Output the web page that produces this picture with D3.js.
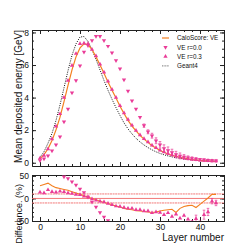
<!DOCTYPE html>
<html lang="en">
<head>
<meta charset="UTF-8">
<script src="https://d3js.org/d3.v7.min.js"></script>
<style>
  body { margin: 0; background: #fff; }
  svg { font-family: "Liberation Sans", Arial, sans-serif; }
</style>
</head>
<body>
<script>
// layer index 0..44
var layers = d3.range(45);

// mean deposited energy per layer [GeV]
var geant4 = [0.33,0.68,1.2,1.8,2.6,3.55,4.6,5.65,6.6,7.3,
  7.72,7.75,7.45,6.95,6.35,5.7,5.05,4.45,3.9,3.38,
  2.9,2.45,2.08,1.77,1.5,1.28,1.09,0.93,0.79,0.67,
  0.57,0.49,0.42,0.36,0.31,0.27,0.23,0.2,0.17,0.15,
  0.13,0.12,0.11,0.1,0.09];
var caloScore = [0.25,0.5,0.86,1.37,2.02,2.8,3.75,4.75,5.7,6.5,
  7.05,7.3,7.25,6.95,6.5,6.0,5.5,4.95,4.45,3.97,
  3.47,3.02,2.6,2.25,1.95,1.68,1.45,1.25,1.05,0.9,
  0.75,0.64,0.54,0.45,0.4,0.33,0.28,0.24,0.2,0.17,
  0.14,0.12,0.105,0.093,0.085];
var veR00 = [0.14,0.25,0.43,0.74,1.1,1.6,2.52,3.3,4.3,5.05,
  5.95,6.8,7.2,7.5,7.77,7.77,7.5,7.16,6.75,6.28,
  5.77,5.1,4.41,3.8,3.3,2.79,2.28,1.9,1.66,1.35,
  1.1,0.88,0.75,0.63,0.5,0.42,0.35,0.3,0.26,0.23,
  0.2,0.18,0.16,0.14,0.12];
var veR00Err = [0,0,0,0,0,0,0,0,0,0,
  0,0,0,0,0,0,0,0,0,0,
  0,0,0,0,0,0,0.1,0.12,0.15,0.18,
  0.2,0.22,0.22,0.2,0.2,0.18,0.15,0.12,0.1,0.08,
  0.06,0.05,0.05,0.05,0.05];
var veR03 = [0.27,0.45,0.84,1.46,2.24,3.0,4.0,5.05,5.97,6.7,
  7.3,7.34,7.3,6.95,6.55,6.05,5.55,5.0,4.5,4.0,
  3.5,3.05,2.65,2.3,1.98,1.7,1.47,1.27,1.07,0.92,
  0.77,0.66,0.56,0.48,0.41,0.35,0.3,0.25,0.22,0.19,
  0.16,0.14,0.12,0.11,0.1];

// difference to Geant4 [%]
var diffCalo = [28,31,34,28,24,22,20,18,15,12,
  9,6,3,0,-3,-6,-9,-11,-14,-17,
  -19,-22,-24,-25,-27,-28,-29,-30,-31,-30,
  -28,-26,-25,-24,-31,-22,-18,-16,-15,-20,
  -13,-6,1,9,9];
var diffR00 = [null,null,null,null,null,null,48,44,37,30,
  21,13,3,-8,-19,-31,-41,-49,null,null,
  null,null,null,null,null,null,null,null,null,null,
  null,null,null,null,null,null,null,null,null,null,
  null,null,null,null,null];
var diffR03 = [14,12,19,15,14,16,15,12,11,9,
  8,5,3,-1,-4,-6,-8,-11,-14,-17,
  -18,-20,-22,-22,-25,-25,-28,-28,-32,-30,
  -31,-36,-32,-40,-35,-44,-38,-46,-55,-45,
  -58,-36,-30,-6,-10];
var diffR03Err = [0,0,0,0,0,0,0,0,0,0,
  0,0,0,0,0,0,0,0,0,0,
  0,0,0,0,0,0,0,0,0,0,
  0,0,0,0,0,0,0,0,6,8,
  8,10,8,6,6];

var xMajor = [0, 10, 20, 30, 40];
var yTopMajor = [0, 2, 4, 6, 8];
var yBotMajor = [-50, 0, 50];
var refLines = [-10, 0, 10];
var legendNames = ["CaloScore: VE", "VE r=0.0", "VE r=0.3", "Geant4"];

var orange = "#f47f1f", pink = "#ea3c98";

var svg = d3.select("body").append("svg")
  .attr("width", 249).attr("height", 249);

var x = d3.scaleLinear().domain([-2, 46]).range([32, 224]);
var yTop = d3.scaleLinear().domain([-0.2, 8.15]).range([166, 30]);
var yBot = d3.scaleLinear().domain([-50, 52]).range([221, 175]);

var xMinor = d3.range(-2, 47, 2);

function frame(yScale, yMajor, yMinor, xLabels) {
  var r = yScale.range();
  var g = svg.append("g");
  function ax(axis, tx, ty, vals, size, labels) {
    var a = g.append("g").attr("transform", "translate(" + tx + "," + ty + ")")
      .call(axis.tickValues(vals).tickSizeInner(-size).tickSizeOuter(0)
        .tickPadding(3).tickFormat(labels ? d3.format("d") : ""));
    a.attr("font-size", 8.5).attr("font-family", null);
    a.selectAll("path, line").attr("stroke", "#222");
    a.selectAll("text").attr("fill", "#111");
    return a;
  }
  ax(d3.axisBottom(x), 0, r[0], xMajor, 4, xLabels);
  ax(d3.axisBottom(x), 0, r[0], xMinor, 2, false);
  ax(d3.axisTop(x), 0, r[1], xMajor, 4, false);
  ax(d3.axisTop(x), 0, r[1], xMinor, 2, false);
  ax(d3.axisLeft(yScale), 32, 0, yMajor, 4, true);
  ax(d3.axisLeft(yScale), 32, 0, yMinor, 2, false);
  ax(d3.axisRight(yScale), 224, 0, yMajor, 4, false);
  ax(d3.axisRight(yScale), 224, 0, yMinor, 2, false);
}

frame(yTop, yTopMajor, d3.range(0, 8.01, 0.5), false);
frame(yBot, yBotMajor, d3.range(-50, 51, 10), true);

svg.append("clipPath").attr("id", "clipTop").append("rect")
  .attr("x", 32).attr("y", 30).attr("width", 192).attr("height", 136);
svg.append("clipPath").attr("id", "clipBot").append("rect")
  .attr("x", 32).attr("y", 175).attr("width", 192).attr("height", 46);

var topG = svg.append("g").attr("clip-path", "url(#clipTop)");
var botG = svg.append("g").attr("clip-path", "url(#clipBot)");

function lineOf(yScale, vals) {
  return d3.line()
    .defined(function(i) { return vals[i] != null; })
    .x(function(i) { return x(i); })
    .y(function(i) { return yScale(vals[i]); })(layers);
}

var triUp = d3.symbol(d3.symbolTriangle).size(8)();

function markers(g, yScale, vals, errs, down) {
  var pts = layers.filter(function(i) { return vals[i] != null; });
  g.selectAll(null).data(pts.filter(function(i) { return errs && errs[i]; }))
    .enter().append("path")
    .attr("d", function(i) {
      var x0 = x(i), y1 = yScale(vals[i] + errs[i]), y2 = yScale(vals[i] - errs[i]);
      return "M" + x0 + "," + y1 + "V" + y2 + "M" + (x0 - 1.3) + "," + y1 + "H" + (x0 + 1.3)
        + "M" + (x0 - 1.3) + "," + y2 + "H" + (x0 + 1.3);
    })
    .attr("stroke", pink).attr("stroke-width", 0.7).attr("fill", "none");
  g.selectAll(null).data(pts).enter().append("path")
    .attr("d", triUp)
    .attr("transform", function(i) {
      return "translate(" + x(i) + "," + yScale(vals[i]) + ")" + (down ? " rotate(180)" : "");
    })
    .attr("fill", pink);
}

// top panel
topG.append("path").attr("d", lineOf(yTop, geant4))
  .attr("fill", "none").attr("stroke", "#111").attr("stroke-width", 1)
  .attr("stroke-dasharray", "1,1.3");
topG.append("path").attr("d", lineOf(yTop, caloScore))
  .attr("fill", "none").attr("stroke", orange).attr("stroke-width", 1.2);
markers(topG, yTop, veR00, veR00Err, true);
markers(topG, yTop, veR03, null, false);

// bottom panel
botG.selectAll(null).data(refLines).enter().append("line")
  .attr("x1", 32).attr("x2", 224)
  .attr("y1", function(d) { return yBot(d); }).attr("y2", function(d) { return yBot(d); })
  .attr("stroke", "#f06a6a").attr("stroke-width", 0.9)
  .attr("stroke-dasharray", function(d) { return d === 0 ? null : "2,0.6"; });
botG.append("path").attr("d", lineOf(yBot, diffCalo))
  .attr("fill", "none").attr("stroke", orange).attr("stroke-width", 1.1);
markers(botG, yBot, diffR00, null, true);
markers(botG, yBot, diffR03, diffR03Err, false);

// legend
var leg = svg.append("g").attr("font-size", 6.3).attr("fill", "#111");
legendNames.forEach(function(name, k) {
  var ly = 38 + k * 9.3;
  if (k === 0) {
    leg.append("line").attr("x1", 162).attr("x2", 169).attr("y1", ly).attr("y2", ly)
      .attr("stroke", orange).attr("stroke-width", 1.2);
  } else if (k === 3) {
    leg.append("line").attr("x1", 162).attr("x2", 169).attr("y1", ly).attr("y2", ly)
      .attr("stroke", "#555").attr("stroke-width", 0.8).attr("stroke-dasharray", "1,0.6");
  } else {
    leg.append("path").attr("d", triUp).attr("fill", pink)
      .attr("transform", "translate(165.5," + ly + ")" + (k === 1 ? " rotate(180)" : ""));
  }
  leg.append("text").attr("x", 177).attr("y", ly).attr("dy", "0.35em").text(name);
});

// axis titles
svg.append("text").attr("transform", "translate(22,30) rotate(-90)")
  .attr("text-anchor", "end").attr("font-size", 10).attr("fill", "#111")
  .text("Mean deposited energy [GeV]");
svg.append("text").attr("transform", "translate(22,184) rotate(-90)")
  .attr("text-anchor", "end").attr("font-size", 9).attr("fill", "#111")
  .text("Difference. (%)");
svg.append("text").attr("x", 224).attr("y", 241)
  .attr("text-anchor", "end").attr("font-size", 10).attr("fill", "#111")
  .text("Layer number");
</script>
</body>
</html>
